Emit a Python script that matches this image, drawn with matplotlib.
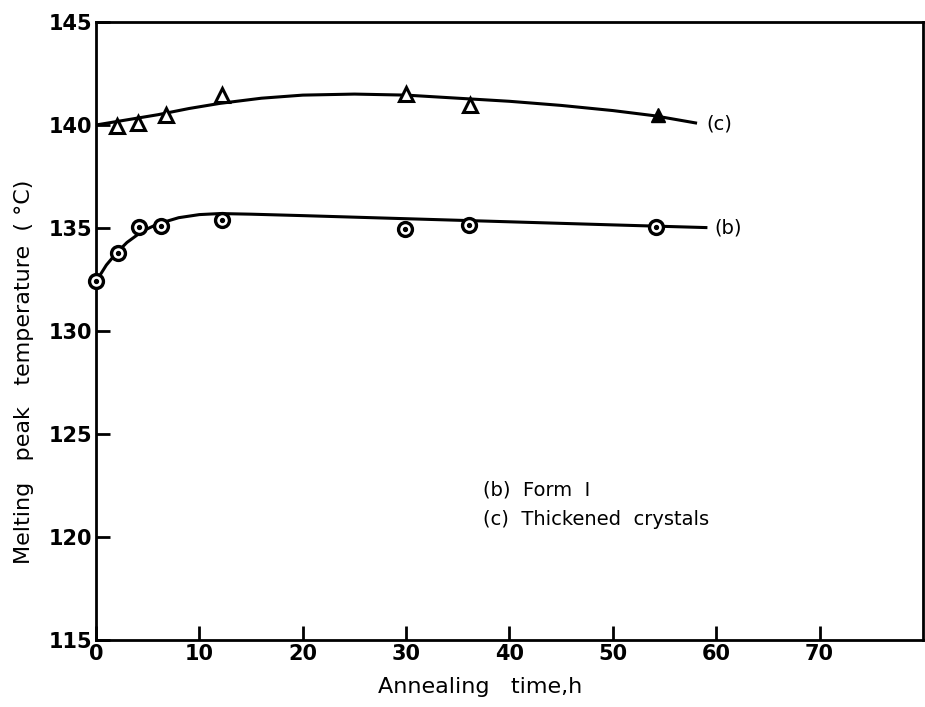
import matplotlib
matplotlib.use("Agg")
import matplotlib.pyplot as plt

# measured points
form1_time = [0, 2.1, 4.2, 6.3, 12.2, 29.9, 36.1, 54.2]
form1_temp = [132.45, 133.8, 135.05, 135.1, 135.4, 134.95, 135.15, 135.06]

thick_time = [2.0, 4.1, 6.8, 12.2, 30.0, 36.2]
thick_temp = [139.95, 140.1, 140.5, 141.45, 141.5, 140.97]
thick_time_filled = [54.4]
thick_temp_filled = [140.5]

# hand drawn fit curves
fit_b_time = [0, 1, 2, 3, 4.5, 6, 8, 10, 12, 15, 20, 30, 40, 50, 59]
fit_b_temp = [132.4, 133.2, 133.8, 134.3, 134.85, 135.2, 135.5, 135.65, 135.7,
              135.67, 135.6, 135.45, 135.3, 135.15, 135.02]
fit_c_time = [0, 3, 6, 9, 12, 16, 20, 25, 30, 35, 40, 45, 50, 54, 58]
fit_c_temp = [140.0, 140.25, 140.5, 140.8, 141.05, 141.3, 141.45, 141.5, 141.45,
              141.3, 141.15, 140.95, 140.7, 140.45, 140.1]

xticks = [0, 10, 20, 30, 40, 50, 60, 70]
yticks = [115, 120, 125, 130, 135, 140, 145]

plt.rcParams['font.family'] = ['DejaVu Sans']

fig = plt.figure(figsize=(9.25, 7.07), dpi=100)
ax = fig.add_axes([0.1038, 0.0948, 0.894, 0.8741])

ax.plot(fit_b_time, fit_b_temp, color='black', lw=2.2, zorder=2)
ax.plot(fit_c_time, fit_c_temp, color='black', lw=2.2, zorder=2)

# form I: open circles with a dot in the middle
ax.plot(form1_time, form1_temp, 'o', ms=10, mfc='white', mec='black', mew=2.4,
        zorder=3, clip_on=False)
ax.plot(form1_time, form1_temp, 'o', ms=2.8, color='black', zorder=4, clip_on=False)

# thickened crystals: open triangles, last one filled
ax.plot(thick_time, thick_temp, '^', ms=10, mfc='white', mec='black', mew=2.2, zorder=3)
ax.plot(thick_time_filled, thick_temp_filled, '^', ms=10, color='black', zorder=3)

ax.text(59.0, 140.05, '(c)', fontsize=14, va='center', ha='left')
ax.text(59.8, 135.0, '(b)', fontsize=14, va='center', ha='left')

ax.text(37.4, 122.3, '(b)  Form  I', fontsize=14, va='center', ha='left')
ax.text(37.4, 120.85, '(c)  Thickened  crystals', fontsize=14, va='center', ha='left')

ax.set_xlim(0, 80)
ax.set_ylim(115, 145)
ax.set_xticks(xticks)
ax.set_yticks(yticks)
ax.tick_params(direction='in', length=10, width=2, labelsize=15, pad=3)
for lbl in ax.get_xticklabels() + ax.get_yticklabels():
    lbl.set_fontweight('bold')
for s in ax.spines.values():
    s.set_linewidth(2)

ax.set_xlabel('Annealing   time,h', fontsize=16, labelpad=9, x=0.464)
ax.set_ylabel('Melting   peak   temperature  ( \u00b0C)', fontsize=16, labelpad=10, y=0.434)

fig.savefig('out.png', dpi=100)
